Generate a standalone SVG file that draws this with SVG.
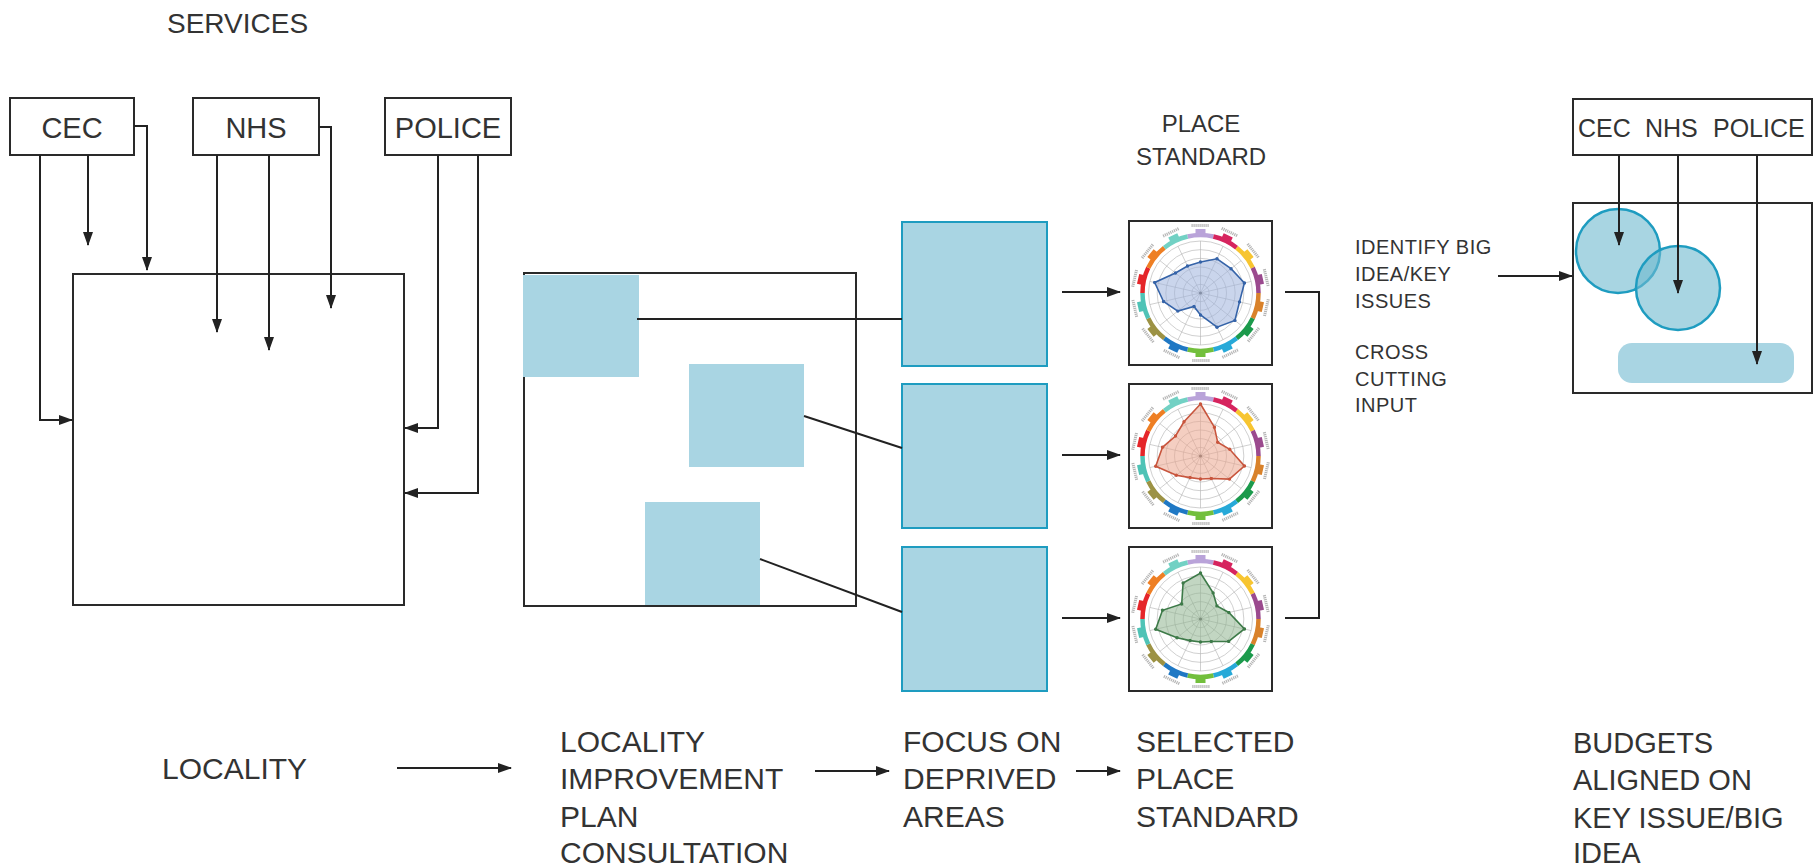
<svg xmlns="http://www.w3.org/2000/svg" xmlns:xlink="http://www.w3.org/1999/xlink" width="1819" height="868" viewBox="0 0 1819 868">
<style>
  .t { font-family: "Liberation Sans", Arial, sans-serif; fill: #333; }
  .box { fill: #fff; stroke: #2a2a2a; stroke-width: 2; }
  .frame { fill: none; stroke: #2a2a2a; stroke-width: 2; }
  .sq { fill: #a9d5e3; }
  .focus { fill: #a9d5e3; stroke: #1e9cc0; stroke-width: 2; }
  .con { fill: none; stroke: #222; stroke-width: 2; }
  .arr { marker-end: url(#arr); }
  .grid { fill: none; stroke: #b0b0b0; stroke-width: 0.6; }
  .seg { fill: none; stroke-width: 4.5; }
  .lbl { fill: none; stroke: #b5b5b5; stroke-width: 3; stroke-dasharray: 1.2 0.8; }
  .bub { fill: #6eb9cf; fill-opacity: 0.6; stroke: #1e9cc0; stroke-width: 2.5; }
</style>
<defs>
  <marker id="arr" viewBox="0 0 14 10" refX="13" refY="5" markerWidth="14" markerHeight="10" markerUnits="userSpaceOnUse" orient="auto">
    <path d="M0,0 L14,5 L0,10 z" fill="#222"/>
  </marker>
  <marker id="dotB" viewBox="-2 -2 4 4" markerWidth="4" markerHeight="4" markerUnits="userSpaceOnUse"><circle r="1.7" fill="#3563a8"/></marker>
  <marker id="dotR" viewBox="-2 -2 4 4" markerWidth="4" markerHeight="4" markerUnits="userSpaceOnUse"><circle r="1.7" fill="#c8553d"/></marker>
  <marker id="dotG" viewBox="-2 -2 4 4" markerWidth="4" markerHeight="4" markerUnits="userSpaceOnUse"><circle r="1.7" fill="#3d7a48"/></marker>
  <g id="psbase">
    <g class="grid">
      <circle r="8.67"/><circle r="17.33"/><circle r="26"/><circle r="34.67"/><circle r="43.33"/><circle r="52"/>
      <path d="M0,-52V52 M22.56,-46.85L-22.56,46.85 M40.65,-32.42L-40.65,32.42 M50.69,-11.57L-50.69,11.57 M50.69,11.57L-50.69,-11.57 M40.65,32.42L-40.65,-32.42 M22.56,46.85L-22.56,-46.85"/>
    </g>
    <circle r="1.6" fill="#666"/>
    <path class="seg" stroke="#b9a3d9" d="M-12.91,-56.54 A58,58 0 0 1 12.91,-56.54"/>
    <path class="seg" stroke="#d6245e" d="M12.91,-56.54 A58,58 0 0 1 36.16,-45.34"/>
    <path class="seg" stroke="#f7c531" d="M36.16,-45.34 A58,58 0 0 1 52.26,-25.17"/>
    <path class="seg" stroke="#9b4a8e" d="M52.26,-25.17 A58,58 0 0 1 58,0"/>
    <path class="seg" stroke="#d9822b" d="M58,0 A58,58 0 0 1 52.26,25.17"/>
    <path class="seg" stroke="#1c9a4c" d="M52.26,25.17 A58,58 0 0 1 36.16,45.34"/>
    <path class="seg" stroke="#27a9d8" d="M36.16,45.34 A58,58 0 0 1 12.91,56.54"/>
    <path class="seg" stroke="#72bf3c" d="M12.91,56.54 A58,58 0 0 1 -12.91,56.54"/>
    <path class="seg" stroke="#1f78c4" d="M-12.91,56.54 A58,58 0 0 1 -36.16,45.34"/>
    <path class="seg" stroke="#9c9244" d="M-36.16,45.34 A58,58 0 0 1 -52.26,25.17"/>
    <path class="seg" stroke="#4fc3b6" d="M-52.26,25.17 A58,58 0 0 1 -58,0"/>
    <path class="seg" stroke="#e5262a" d="M-58,0 A58,58 0 0 1 -52.26,-25.17"/>
    <path class="seg" stroke="#ee7f24" d="M-52.26,-25.17 A58,58 0 0 1 -36.16,-45.34"/>
    <path class="seg" stroke="#72d1c4" d="M-36.16,-45.34 A58,58 0 0 1 -12.91,-56.54"/>
    <rect x="-5" y="-64" width="10" height="7" fill="#b9a3d9"/>
    <rect x="-5" y="-64" width="10" height="7" fill="#d6245e" transform="rotate(25.714)"/>
    <rect x="-5" y="-64" width="10" height="7" fill="#f7c531" transform="rotate(51.429)"/>
    <rect x="-5" y="-64" width="10" height="7" fill="#9b4a8e" transform="rotate(77.143)"/>
    <rect x="-5" y="-64" width="10" height="7" fill="#d9822b" transform="rotate(102.857)"/>
    <rect x="-5" y="-64" width="10" height="7" fill="#1c9a4c" transform="rotate(128.571)"/>
    <rect x="-5" y="-64" width="10" height="7" fill="#27a9d8" transform="rotate(154.286)"/>
    <rect x="-5" y="-64" width="10" height="7" fill="#72bf3c" transform="rotate(180)"/>
    <rect x="-5" y="-64" width="10" height="7" fill="#1f78c4" transform="rotate(205.714)"/>
    <rect x="-5" y="-64" width="10" height="7" fill="#9c9244" transform="rotate(231.429)"/>
    <rect x="-5" y="-64" width="10" height="7" fill="#4fc3b6" transform="rotate(257.143)"/>
    <rect x="-5" y="-64" width="10" height="7" fill="#e5262a" transform="rotate(282.857)"/>
    <rect x="-5" y="-64" width="10" height="7" fill="#ee7f24" transform="rotate(308.571)"/>
    <rect x="-5" y="-64" width="10" height="7" fill="#72d1c4" transform="rotate(334.286)"/>
    <g class="lbl">
      <path d="M-9,-67.5h18"/>
      <path d="M-9,-67.5h18" transform="rotate(25.714)"/>
      <path d="M-9,-67.5h18" transform="rotate(51.429)"/>
      <path d="M-9,-67.5h18" transform="rotate(77.143)"/>
      <path d="M-9,-67.5h18" transform="rotate(102.857)"/>
      <path d="M-9,-67.5h18" transform="rotate(128.571)"/>
      <path d="M-9,-67.5h18" transform="rotate(154.286)"/>
      <path d="M-9,-67.5h18" transform="rotate(180)"/>
      <path d="M-9,-67.5h18" transform="rotate(205.714)"/>
      <path d="M-9,-67.5h18" transform="rotate(231.429)"/>
      <path d="M-9,-67.5h18" transform="rotate(257.143)"/>
      <path d="M-9,-67.5h18" transform="rotate(282.857)"/>
      <path d="M-9,-67.5h18" transform="rotate(308.571)"/>
      <path d="M-9,-67.5h18" transform="rotate(334.286)"/>
    </g>
  </g>
</defs>

<rect width="1819" height="868" fill="#fff"/>

<!-- Titles -->
<g id="title-services"><text class="t" x="167" y="33" font-size="28">SERVICES</text></g>
<g id="title-place-standard">
  <text class="t" x="1201" y="132" font-size="24" text-anchor="middle">PLACE</text>
  <text class="t" x="1201" y="165" font-size="24" text-anchor="middle">STANDARD</text>
</g>

<!-- Left services -->
<g id="svc-cec"><rect class="box" x="10" y="98" width="124" height="57"/><text class="t" x="72" y="138" font-size="29" text-anchor="middle">CEC</text></g>
<g id="svc-nhs"><rect class="box" x="193" y="98" width="126" height="57"/><text class="t" x="256" y="138" font-size="29" text-anchor="middle">NHS</text></g>
<g id="svc-police"><rect class="box" x="385" y="98" width="126" height="57"/><text class="t" x="448" y="138" font-size="29" text-anchor="middle">POLICE</text></g>
<g id="locality-box"><rect class="box" x="73" y="274" width="331" height="331"/></g>

<!-- Locality improvement plan -->
<g id="lip-box">
  <rect class="frame" x="524" y="273" width="332" height="333"/>
  <rect class="sq" x="523" y="275" width="116" height="102"/>
  <rect class="sq" x="689" y="364" width="115" height="103"/>
  <rect class="sq" x="645" y="502" width="115" height="103"/>
  <path d="M524,273 H856" class="frame"/>
  <path d="M645,606 H760" class="frame"/>
</g>

<!-- Focus boxes -->
<g id="focus-1"><rect class="focus" x="902" y="222" width="145" height="144"/></g>
<g id="focus-2"><rect class="focus" x="902" y="384" width="145" height="144"/></g>
<g id="focus-3"><rect class="focus" x="902" y="547" width="145" height="144"/></g>

<!-- Place standard charts -->
<g id="chart-1">
  <rect class="box" x="1129" y="221" width="143" height="144"/>
  <use href="#psbase" xlink:href="#psbase" transform="translate(1200.5,293)"/>
  <polygon transform="translate(1200.5,293)" fill="#9fb3dc" fill-opacity="0.55" stroke="#3563a8" stroke-width="1.6" marker-start="url(#dotB)" marker-mid="url(#dotB)"
    points="0,-31 16.5,-34.2 30.5,-24.3 43.9,-10 39,8.9 34.4,27.4 16.5,34.2 0,22 -6.5,13.5 -22.7,18.1 -37,8.5 -45.8,-10.5 -25,-20 -13,-27"/>
</g>
<g id="chart-2">
  <rect class="box" x="1129" y="384" width="143" height="144"/>
  <use href="#psbase" xlink:href="#psbase" transform="translate(1200.5,456)"/>
  <polygon transform="translate(1200.5,456)" fill="#eba58e" fill-opacity="0.55" stroke="#c8553d" stroke-width="1.6" marker-start="url(#dotR)" marker-mid="url(#dotR)"
    points="0,-52 13.9,-28.8 17.2,-13.7 29.2,-6.7 43.9,10 28.9,23.1 10.8,22.5 0,23 -10.4,21.6 -24.2,19.3 -44.8,10.2 -38,-8.7 -25,-20 -16.5,-34.2"/>
</g>
<g id="chart-3">
  <rect class="box" x="1129" y="547" width="143" height="144"/>
  <use href="#psbase" xlink:href="#psbase" transform="translate(1200.5,619)"/>
  <polygon transform="translate(1200.5,619)" fill="#8fb590" fill-opacity="0.55" stroke="#3d7a48" stroke-width="1.6" marker-start="url(#dotG)" marker-mid="url(#dotG)"
    points="0,-46 12.6,-26.1 16.4,-13.1 28.3,-6.5 43.9,10 28.1,22.4 10.8,22.5 0,23 -10.4,21.6 -23.5,18.7 -44.8,10.2 -38,-8.7 -18.8,-15 -17.4,-36"/>
</g>

<!-- Side notes -->
<g id="note-identify">
  <text class="t" x="1355" y="254" font-size="20" letter-spacing="0.5">IDENTIFY BIG</text>
  <text class="t" x="1355" y="281" font-size="20" letter-spacing="0.5">IDEA/KEY</text>
  <text class="t" x="1355" y="308" font-size="20" letter-spacing="0.5">ISSUES</text>
</g>
<g id="note-cross">
  <text class="t" x="1355" y="359" font-size="20" letter-spacing="0.5">CROSS</text>
  <text class="t" x="1355" y="386" font-size="20" letter-spacing="0.5">CUTTING</text>
  <text class="t" x="1355" y="412" font-size="20" letter-spacing="0.5">INPUT</text>
</g>

<!-- Right budgets -->
<g id="budget-services">
  <rect class="box" x="1573" y="99" width="239" height="56"/>
  <text class="t" x="1578" y="137" font-size="25">CEC</text>
  <text class="t" x="1645" y="137" font-size="25">NHS</text>
  <text class="t" x="1713" y="137" font-size="25">POLICE</text>
</g>
<g id="budget-box">
  <rect class="box" x="1573" y="203" width="239" height="190"/>
  <circle class="bub" cx="1618" cy="251" r="42"/>
  <circle class="bub" cx="1678" cy="288" r="42"/>
  <rect x="1618" y="343" width="176" height="40" rx="14" fill="#a9d5e3"/>
</g>

<!-- Bottom labels -->
<g id="lbl-locality"><text class="t" x="162" y="779" font-size="30">LOCALITY</text></g>
<g id="lbl-lip">
  <text class="t" x="560" y="752" font-size="30">LOCALITY</text>
  <text class="t" x="560" y="789" font-size="30">IMPROVEMENT</text>
  <text class="t" x="560" y="827" font-size="30">PLAN</text>
  <text class="t" x="560" y="863" font-size="30">CONSULTATION</text>
</g>
<g id="lbl-focus">
  <text class="t" x="903" y="752" font-size="30">FOCUS ON</text>
  <text class="t" x="903" y="789" font-size="30">DEPRIVED</text>
  <text class="t" x="903" y="827" font-size="30">AREAS</text>
</g>
<g id="lbl-selected">
  <text class="t" x="1136" y="752" font-size="30">SELECTED</text>
  <text class="t" x="1136" y="789" font-size="30">PLACE</text>
  <text class="t" x="1136" y="827" font-size="30">STANDARD</text>
</g>
<g id="lbl-budgets">
  <text class="t" x="1573" y="753" font-size="29">BUDGETS</text>
  <text class="t" x="1573" y="790" font-size="29">ALIGNED ON</text>
  <text class="t" x="1573" y="828" font-size="29">KEY ISSUE/BIG</text>
  <text class="t" x="1573" y="863" font-size="29">IDEA</text>
</g>

<!-- Connectors -->
<g id="connectors">
  <path class="con arr" d="M40,155 V420 H72"/>
  <path class="con arr" d="M88,155 V245"/>
  <path class="con arr" d="M134,126 H147 V270"/>
  <path class="con arr" d="M217,155 V332"/>
  <path class="con arr" d="M269,155 V350"/>
  <path class="con arr" d="M319,127 H331 V308"/>
  <path class="con arr" d="M438,155 V428 H405"/>
  <path class="con arr" d="M478,155 V493 H405"/>

  <path class="con" d="M637,319 H902"/>
  <path class="con" d="M804,416 L902,448"/>
  <path class="con" d="M760,559 L902,612"/>

  <path class="con arr" d="M1062,292 H1120"/>
  <path class="con arr" d="M1062,455 H1120"/>
  <path class="con arr" d="M1062,618 H1120"/>

  <path class="con" d="M1285,292 H1319 V618 H1285"/>
  <path class="con arr" d="M1498,276 H1572"/>

  <path class="con arr" d="M1619,155 V245"/>
  <path class="con arr" d="M1678,155 V293"/>
  <path class="con arr" d="M1757,155 V364"/>

  <path class="con arr" d="M397,768 H511"/>
  <path class="con arr" d="M815,771 H889"/>
  <path class="con arr" d="M1076,771 H1120"/>
</g>
</svg>
